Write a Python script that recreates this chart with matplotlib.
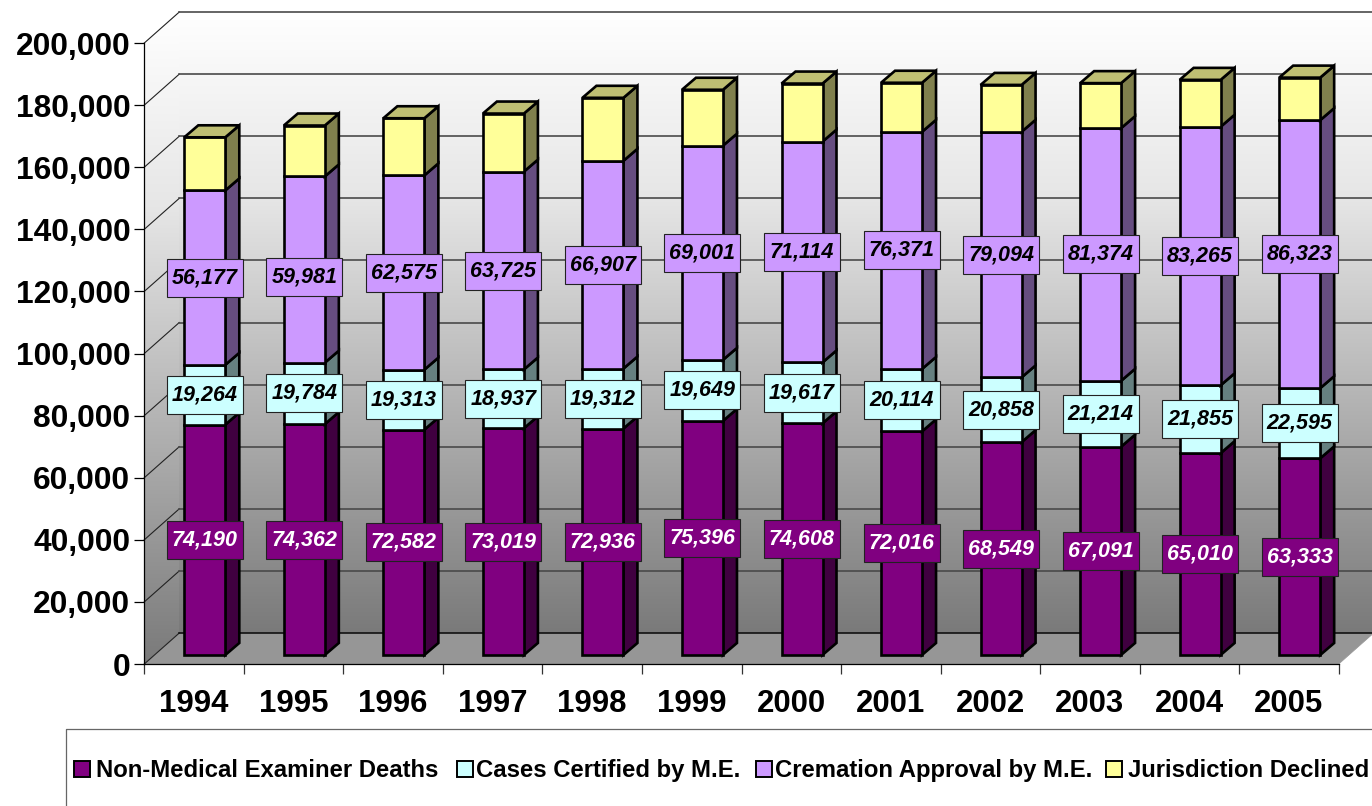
import numpy as np
import matplotlib
matplotlib.use('Agg')
import matplotlib.pyplot as plt
from matplotlib.colors import LinearSegmentedColormap
from matplotlib.lines import Line2D
from matplotlib.patches import Polygon, Rectangle
from matplotlib.transforms import Affine2D

plt.rcParams['font.family'] = ['Liberation Sans', 'DejaVu Sans']

years = ['1994', '1995', '1996', '1997', '1998', '1999', '2000', '2001', '2002', '2003', '2004', '2005']
non_me = [74190, 74362, 72582, 73019, 72936, 75396, 74608, 72016, 68549, 67091, 65010, 63333]
certified = [19264, 19784, 19313, 18937, 19312, 19649, 19617, 20114, 20858, 21214, 21855, 22595]
cremation = [56177, 59981, 62575, 63725, 66907, 69001, 71114, 76371, 79094, 81374, 83265, 86323]
declined = [17100, 16400, 18400, 18700, 20300, 18000, 18700, 15800, 15100, 14500, 15100, 13700]

names = ['Non-Medical Examiner Deaths', 'Cases Certified by M.E.', 'Cremation Approval by M.E.', 'Jurisdiction Declined']
colors = ['#800080', '#CCFFFF', '#CC99FF', '#FFFF99']
values = [non_me, certified, cremation, declined]
labelled = [True, True, True, False]
yticks = list(range(0, 200001, 20000))

W, H = 1372, 806
L, R, B, T = 144.3, 1338.7, 664, 43
px_x = (R - L) / 12
px_y = (B - T) / 200000

fig = plt.figure(figsize=(W / 100, H / 100), dpi=100)
ax = fig.add_axes([L / W, 1 - B / H, (R - L) / W, (B - T) / H])

# 3D offsets, in data units
dx = 35 / px_x
dy = 31 / px_y
bar_w = 41 / px_x
bar_x0 = 40 / px_x          # front left corner inside a category
bar_dx = 14 / px_x
bar_dy = 12 / px_y
lift_y = 9 / px_y
box_w = 76 / px_x
box_h = 38 / px_y

# ---- walls
wall = LinearSegmentedColormap.from_list('wall', [(0, '#FFFFFF'), (0.3, '#E6E6E6'), (1, '#7A7A7A')])
grad = np.linspace(0, 1, 256).reshape(-1, 1)
back = Polygon([(dx, dy), (12.5, dy), (12.5, 200000 + dy), (dx, 200000 + dy)], transform=ax.transData)
side = Polygon([(0, 0), (dx, dy), (dx, 200000 + dy), (0, 200000)], transform=ax.transData)
for clip, ext in ((back, (dx, 12.5, dy, 200000 + dy)), (side, (0, dx, 0, 200000 + dy))):
    im = ax.imshow(grad, cmap=wall, aspect='auto', extent=ext, origin='upper', zorder=0, vmin=0, vmax=1)
    im.set_clip_path(clip)
    im.set_clip_box(fig.bbox)

ax.add_patch(Polygon([(0, 0), (dx, dy), (12 + dx, dy), (12, 0)], facecolor='#969696', edgecolor='none',
                     zorder=0.5, clip_on=False))

# ---- gridlines
for v in yticks:
    ax.plot([0, dx], [v, v + dy], color='#222222', lw=0.8, zorder=1, clip_on=False)
    ax.plot([dx, 12.5], [v + dy, v + dy], color='#4A4A4A' if v else '#111111', lw=1.2, zorder=1, clip_on=False)
ax.plot([12, 12 + dx], [0, dy], color='#999999', lw=0.6, zorder=0.6, clip_on=False)


def shade(col, f):
    rgb = np.array(matplotlib.colors.to_rgb(col))
    return tuple(rgb * f)


# ---- bars
for i in range(len(years)):
    x0 = i + bar_x0
    x1 = x0 + bar_w
    base = lift_y
    boxes = []
    for vals, col, lab in zip(values, colors, labelled):
        top = base + vals[i]
        art = dict(edgecolor='black', lw=1.9, joinstyle='miter', clip_on=False, zorder=4 + i)
        ax.add_patch(Polygon([(x1, base), (x1 + bar_dx, base + bar_dy), (x1 + bar_dx, top + bar_dy), (x1, top)],
                             facecolor=shade(col, 0.5), **art))
        ax.add_patch(Polygon([(x0, base), (x1, base), (x1, top), (x0, top)], facecolor=col, **art))
        if vals is declined:
            ax.add_patch(Polygon([(x0, top), (x1, top), (x1 + bar_dx, top + bar_dy), (x0 + bar_dx, top + bar_dy)],
                                 facecolor=shade(col, 0.75), **art))
        if lab:
            yc = (base + top) / 2
            # the 1995 cremation label sits lower than its segment's middle
            if vals is cremation and years[i] == '1995':
                yc -= 7 / px_y
            boxes.append(((x0 + x1) / 2, yc, vals[i], col))
        base = top
    for xc, yc, v, col in boxes:
        ax.add_patch(Rectangle((xc - box_w / 2, yc - box_h / 2), box_w, box_h, facecolor=col,
                               edgecolor='#222222', lw=0.8, clip_on=False, zorder=40))
        ax.text(xc, yc, f'{v:,}', ha='center', va='center', fontsize=15.5, fontweight='bold', fontstyle='italic',
                color='white' if col == '#800080' else 'black', zorder=41, clip_on=False)

# ---- axes
ax.set_xlim(0, 12)
ax.set_ylim(0, 200000)
ax.patch.set_visible(False)
for s in ('top', 'right'):
    ax.spines[s].set_visible(False)
for s in ('left', 'bottom'):
    ax.spines[s].set_linewidth(0.9)
    ax.spines[s].set_zorder(3)
ax.set_yticks(yticks)
ax.set_yticklabels([f'{v:,}' for v in yticks], fontsize=22.9, fontweight='bold')
ax.tick_params(axis='y', length=7.2, width=0.9, pad=3)
ax.set_xticks(range(13))
ax.set_xticklabels([''] * 13)
ax.tick_params(axis='x', length=7.5, width=0.9, color='#333333')
ax.set_xticks(np.arange(12) + 0.5, minor=True)
ax.set_xticklabels(years, minor=True, fontsize=22.4, fontweight='bold')
ax.tick_params(axis='x', which='minor', length=0, pad=18)

# ---- legend, placed in pixel coordinates
pix = Affine2D().scale(1, -1).translate(0, H)
fig.add_artist(Line2D([66, 66, W], [H, 729, 729], color='#666666', lw=0.9, transform=pix))
sw_x = [74, 457, 756, 1106]
tx_x = [96, 476, 775, 1128]
for name, col, sx, tx in zip(names, colors, sw_x, tx_x):
    fig.add_artist(Rectangle((sx, 761), 16, 16, facecolor=col, edgecolor='black', lw=1.4, transform=pix))
    fig.text(tx, 770.5, name, fontsize=17.2, fontweight='bold', va='center', ha='left', transform=pix)

fig.savefig('out.png', dpi=100)
